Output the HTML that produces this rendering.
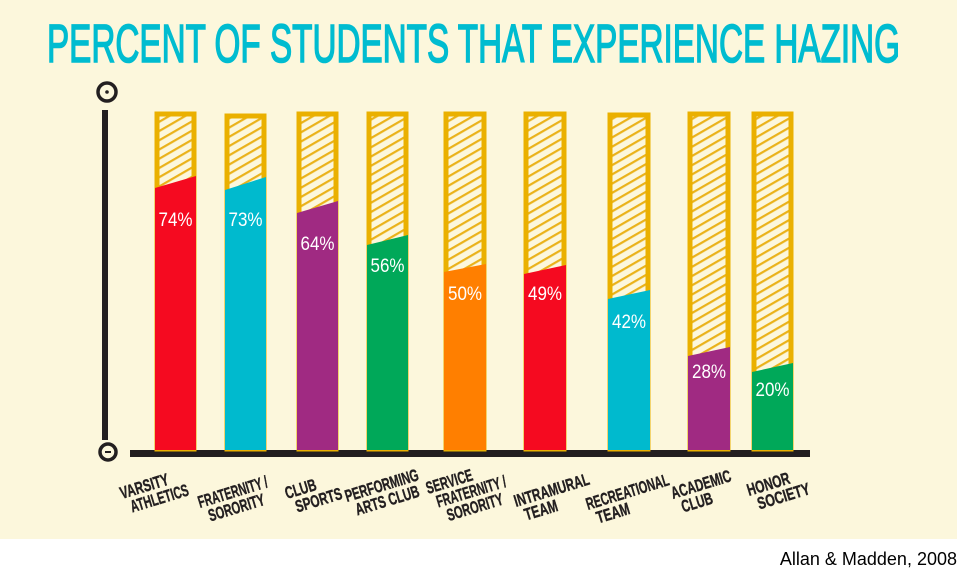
<!DOCTYPE html>
<html><head><meta charset="utf-8"><style>
body{margin:0;width:962px;height:579px;background:#fff;overflow:hidden}
svg{display:block}
</style></head><body>
<svg width="962" height="579" viewBox="0 0 962 579" xmlns="http://www.w3.org/2000/svg">
<defs>
<pattern id="h" patternUnits="userSpaceOnUse" width="8" height="8" patternTransform="rotate(-30)">
<rect width="8" height="8" fill="#fcf7dc"/><rect width="8" height="2.2" fill="#eab21a"/>
</pattern>
</defs>
<rect x="0" y="0" width="957" height="539" fill="#fcf7dc"/>
<text x="47" y="62" font-family="Liberation Sans, sans-serif" font-size="54" fill="#00bcd0" stroke="#00bcd0" stroke-width="1.6" textLength="853" lengthAdjust="spacingAndGlyphs">PERCENT OF STUDENTS THAT EXPERIENCE HAZING</text>
<rect x="102" y="110" width="6" height="330" fill="#231f20"/>
<circle cx="107" cy="92" r="9" fill="none" stroke="#231f20" stroke-width="3.5"/>
<circle cx="107" cy="92" r="1.8" fill="#231f20"/>
<circle cx="108" cy="452" r="8" fill="none" stroke="#231f20" stroke-width="3.5"/>
<rect x="105" y="451" width="6" height="2" fill="#231f20"/>
<rect x="130" y="450" width="680" height="7" fill="#231f20"/>
<g font-family="Liberation Sans, sans-serif" fill="#fff" font-size="19">
<g>
<rect x="157" y="114" width="37" height="335" fill="url(#h)" stroke="#eab000" stroke-width="5"/>
<polygon points="155,188 196,176 196,450 155,450" fill="#f50a20"/>
<text x="175.5" y="226" text-anchor="middle" textLength="34" lengthAdjust="spacingAndGlyphs">74%</text>
</g>
<g>
<rect x="227" y="116" width="37" height="333" fill="url(#h)" stroke="#eab000" stroke-width="5"/>
<polygon points="225,190 266,177 266,450 225,450" fill="#00bace"/>
<text x="245.5" y="226" text-anchor="middle" textLength="34" lengthAdjust="spacingAndGlyphs">73%</text>
</g>
<g>
<rect x="299" y="114" width="37" height="335" fill="url(#h)" stroke="#eab000" stroke-width="5"/>
<polygon points="297,213 338,201 338,450 297,450" fill="#a02a82"/>
<text x="317.5" y="250" text-anchor="middle" textLength="34" lengthAdjust="spacingAndGlyphs">64%</text>
</g>
<g>
<rect x="369" y="114" width="37" height="335" fill="url(#h)" stroke="#eab000" stroke-width="5"/>
<polygon points="367,245 408,235 408,450 367,450" fill="#00a859"/>
<text x="387.5" y="272" text-anchor="middle" textLength="34" lengthAdjust="spacingAndGlyphs">56%</text>
</g>
<g>
<rect x="446" y="114" width="38" height="335" fill="url(#h)" stroke="#eab000" stroke-width="5"/>
<polygon points="444,272 486,264 486,450 444,450" fill="#ff7f00"/>
<text x="465" y="300" text-anchor="middle" textLength="34" lengthAdjust="spacingAndGlyphs">50%</text>
</g>
<g>
<rect x="526" y="114" width="38" height="335" fill="url(#h)" stroke="#eab000" stroke-width="5"/>
<polygon points="524,274 566,265 566,450 524,450" fill="#f50a20"/>
<text x="545" y="300" text-anchor="middle" textLength="34" lengthAdjust="spacingAndGlyphs">49%</text>
</g>
<g>
<rect x="610" y="115" width="38" height="334" fill="url(#h)" stroke="#eab000" stroke-width="5"/>
<polygon points="608,299 650,290 650,450 608,450" fill="#00bace"/>
<text x="629" y="328" text-anchor="middle" textLength="34" lengthAdjust="spacingAndGlyphs">42%</text>
</g>
<g>
<rect x="690" y="114" width="38" height="335" fill="url(#h)" stroke="#eab000" stroke-width="5"/>
<polygon points="688,356 730,347 730,450 688,450" fill="#a02a82"/>
<text x="709" y="378" text-anchor="middle" textLength="34" lengthAdjust="spacingAndGlyphs">28%</text>
</g>
<g>
<rect x="754" y="114" width="37" height="335" fill="url(#h)" stroke="#eab000" stroke-width="5"/>
<polygon points="752,372 793,363 793,450 752,450" fill="#00a859"/>
<text x="772.5" y="396" text-anchor="middle" textLength="34" lengthAdjust="spacingAndGlyphs">20%</text>
</g>
</g>
<g font-family="Liberation Sans, sans-serif" font-weight="bold" fill="#231f20" font-size="17" stroke="#231f20" stroke-width="0.4">
<g transform="translate(122,499) rotate(-17)"><text textLength="50" lengthAdjust="spacingAndGlyphs">VARSITY</text><text x="6" y="16" textLength="60" lengthAdjust="spacingAndGlyphs">ATHLETICS</text></g>
<g transform="translate(200,508) rotate(-17)"><text textLength="72" lengthAdjust="spacingAndGlyphs">FRATERNITY /</text><text x="6" y="16" textLength="58" lengthAdjust="spacingAndGlyphs">SORORITY</text></g>
<g transform="translate(287,499) rotate(-17)"><text textLength="32" lengthAdjust="spacingAndGlyphs">CLUB</text><text x="6" y="16" textLength="48" lengthAdjust="spacingAndGlyphs">SPORTS</text></g>
<g transform="translate(347,502) rotate(-17)"><text textLength="76" lengthAdjust="spacingAndGlyphs">PERFORMING</text><text x="6" y="16" textLength="66" lengthAdjust="spacingAndGlyphs">ARTS CLUB</text></g>
<g transform="translate(428,494) rotate(-17)"><text textLength="48" lengthAdjust="spacingAndGlyphs">SERVICE</text><text x="6" y="16" textLength="72" lengthAdjust="spacingAndGlyphs">FRATERNITY /</text><text x="12" y="32" textLength="58" lengthAdjust="spacingAndGlyphs">SORORITY</text></g>
<g transform="translate(516,507) rotate(-17)"><text textLength="78" lengthAdjust="spacingAndGlyphs">INTRAMURAL</text><text x="6" y="16" textLength="34" lengthAdjust="spacingAndGlyphs">TEAM</text></g>
<g transform="translate(588,510) rotate(-17)"><text textLength="86" lengthAdjust="spacingAndGlyphs">RECREATIONAL</text><text x="6" y="16" textLength="34" lengthAdjust="spacingAndGlyphs">TEAM</text></g>
<g transform="translate(673,499) rotate(-17)"><text textLength="62" lengthAdjust="spacingAndGlyphs">ACADEMIC</text><text x="6" y="16" textLength="32" lengthAdjust="spacingAndGlyphs">CLUB</text></g>
<g transform="translate(749,496) rotate(-17)"><text textLength="44" lengthAdjust="spacingAndGlyphs">HONOR</text><text x="6" y="16" textLength="54" lengthAdjust="spacingAndGlyphs">SOCIETY</text></g>
</g>
<text x="957" y="565" text-anchor="end" font-family="Liberation Sans, sans-serif" font-size="18" fill="#000">Allan &amp; Madden, 2008</text>
</svg>
</body></html>
